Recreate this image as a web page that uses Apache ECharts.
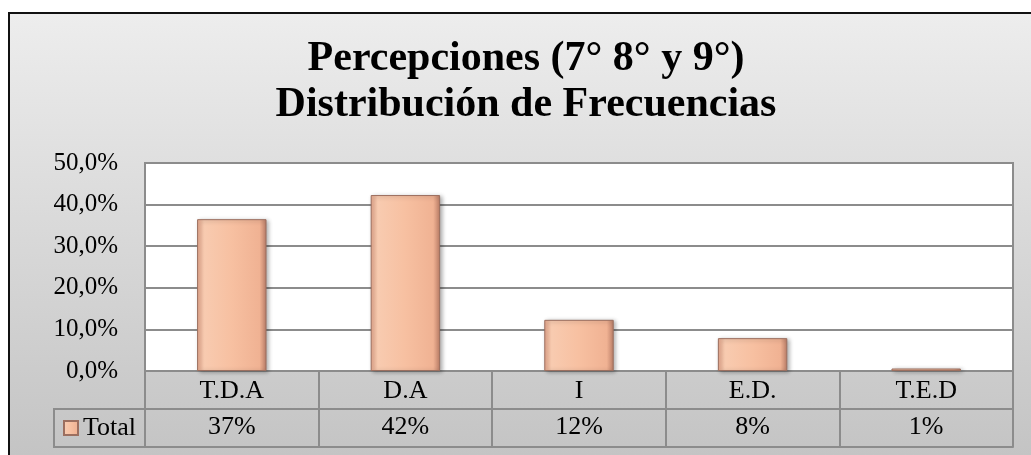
<!DOCTYPE html>
<html>
<head>
<meta charset="utf-8">
<script src="https://cdn.jsdelivr.net/npm/echarts@6/dist/echarts.min.js"></script>
<style>
html, body { margin: 0; padding: 0; overflow: hidden; background: #fff; }
#chart {
  position: absolute; left: 8px; top: 12px;
  width: 1021px; height: 441px;
  border-left: 2px solid #111; border-top: 2px solid #111;
  background: linear-gradient(#ededed, #c4c4c4);
}
</style>
</head>
<body>
<div id="chart"></div>
<script>
// data
var categories = ['T.D.A', 'D.A', 'I', 'E.D.', 'T.E.D'];
var totalValues = [36.5, 42.3, 12.3, 7.9, 0.6];
var yTicks = [0, 10, 20, 30, 40, 50];
var totalLabels = totalValues.map(function (v) { return Math.round(v) + '%'; });

var serif = '"Liberation Serif", "Times New Roman", serif';
var lineGray = '#8c8c8c';

var chart = echarts.init(document.getElementById('chart'));

var barFill = new echarts.graphic.LinearGradient(0, 0, 1, 0, [
  { offset: 0, color: '#e6a78c' },
  { offset: 0.1, color: '#f8cbb0' },
  { offset: 0.5, color: '#f7c0a1' },
  { offset: 0.9, color: '#f0b293' },
  { offset: 1, color: '#b97c66' }
]);

var option = {
  animation: false,
  backgroundColor: 'transparent',
  title: {
    text: 'Percepciones (7° 8° y 9°)\nDistribución de Frecuencias',
    left: 516,
    top: 22,
    padding: 0,
    textAlign: 'center',
    textStyle: {
      fontFamily: serif,
      fontWeight: 'bold',
      fontSize: 42,
      lineHeight: 46,
      color: '#000'
    }
  },
  legend: {
    data: ['Total'],
    left: 53,
    top: 401,
    padding: 0,
    icon: 'rect',
    itemWidth: 14,
    itemHeight: 14,
    textStyle: { fontFamily: serif, fontSize: 26, lineHeight: 26, color: '#000' }
  },
  grid: {
    left: 135,
    top: 149,
    width: 868,
    height: 208,
    show: true,
    backgroundColor: '#fff',
    borderColor: lineGray,
    borderWidth: 2,
    outerBoundsMode: 'none'
  },
  xAxis: [{
    type: 'category',
    data: categories,
    position: 'bottom',
    axisLine: { lineStyle: { color: lineGray, width: 2 } },
    axisTick: { show: true, length: 76, interval: 0, lineStyle: { color: lineGray, width: 2 } },
    axisLabel: { margin: 7, fontFamily: serif, fontSize: 26, lineHeight: 26, color: '#000' }
  }, {
    type: 'category',
    data: totalLabels,
    position: 'bottom',
    offset: 38,
    axisLine: { lineStyle: { color: lineGray, width: 2 } },
    axisTick: { show: false },
    axisLabel: { margin: 5, fontFamily: serif, fontSize: 26, lineHeight: 26, color: '#000' }
  }, {
    type: 'category',
    data: categories,
    position: 'bottom',
    offset: 76,
    axisLine: { lineStyle: { color: lineGray, width: 2 } },
    axisTick: { show: false },
    axisLabel: { show: false }
  }],
  yAxis: {
    type: 'value',
    min: yTicks[0],
    max: yTicks[yTicks.length - 1],
    interval: 10,
    axisLine: { show: false },
    axisTick: { show: false },
    splitLine: { lineStyle: { color: lineGray, width: 2 } },
    axisLabel: {
      margin: 27,
      fontFamily: serif,
      fontSize: 25,
      color: '#000',
      formatter: function (v) { return v.toFixed(1).replace('.', ',') + '%'; }
    }
  },
  graphic: [{
    type: 'rect',
    silent: true,
    shape: { x: 44, y: 395, width: 91, height: 38 },
    style: { fill: null, stroke: lineGray, lineWidth: 2 }
  }],
  series: [{
    name: 'Total',
    type: 'bar',
    data: totalValues,
    barWidth: '40%',
    itemStyle: {
      color: barFill,
      borderColor: '#9c6f5f',
      borderWidth: 1,
      shadowColor: 'rgba(0,0,0,0.3)',
      shadowBlur: 4,
      shadowOffsetX: 2,
      shadowOffsetY: 1
    }
  }]
};

chart.setOption(option);
</script>
</body>
</html>
